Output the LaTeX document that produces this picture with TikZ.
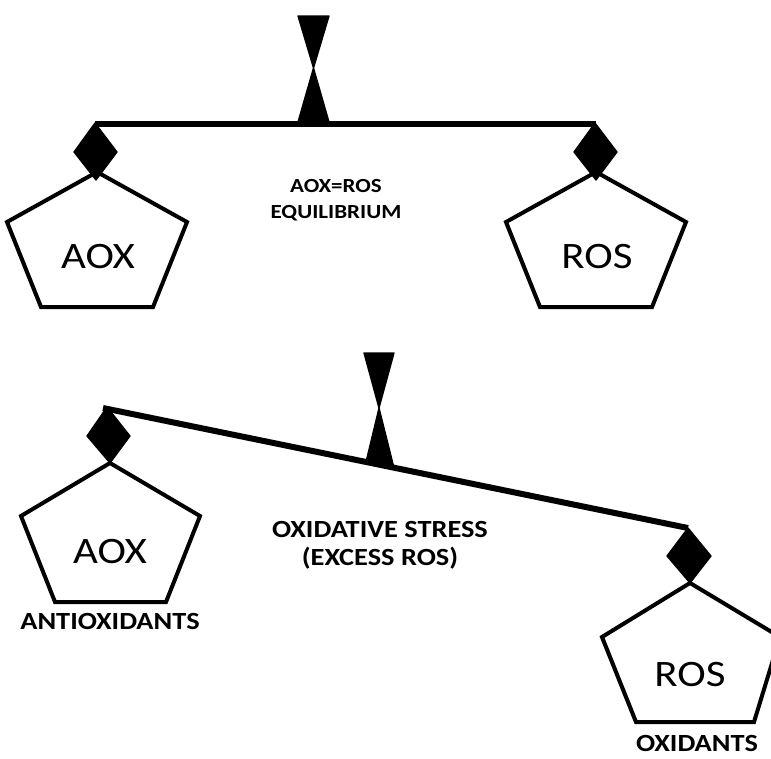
\documentclass[tikz,border=0pt]{standalone}
\usepackage{fontspec}
\setmainfont{Carlito}
\newfontfamily\widefont[FakeStretch=1.15]{Carlito}
\begin{document}
\begin{tikzpicture}[x=0.75pt,y=0.75pt,yscale=-1,xscale=1,
  pent/.style={line width=3pt,line join=miter},
  beam/.style={line width=4.5pt},
  blk/.style={fill=black,draw=black,line width=1pt,line join=round},
  big/.style={font=\widefont\fontsize{28}{32}\selectfont},
  small/.style={font=\widefont\bfseries\fontsize{15}{19.5}\selectfont,align=center},
  medium/.style={font=\widefont\bfseries\fontsize{18.5}{21}\selectfont,align=center}]
\useasboundingbox (0,0) rectangle (771,758);

%top balance: AOX=ROS
\draw [blk] (298,16) -- (329,16) -- (313.5,68) -- cycle ;
\draw [blk] (313.5,68) -- (329,122) -- (298,122) -- cycle ;
\draw [beam]  (95,124) -- (596,124) ;
\draw [blk] (95,123) -- (117,152) -- (96,180) -- (74,152) -- cycle ;
\draw [blk] (595,123) -- (617,152) -- (596,180) -- (574,152) -- cycle ;
\draw [pent] (97,172) -- (187,222) -- (153,307) -- (41,307) -- (7,222) -- cycle ;
\draw [pent] (596,172) -- (686,222) -- (652,307) -- (540,307) -- (506,222) -- cycle ;

\node [big] (aoxtop) at (98,257) {AOX};
\node [big] (rostop) at (597,257) {ROS};
\node [small] (equil) at (336,200) {AOX=ROS\\EQUILIBRIUM};

%bottom balance: excess ROS
\draw [blk] (364,353) -- (394,353) -- (379,408) -- cycle ;
\draw [blk] (379,408) -- (394,468) -- (366,462) -- cycle ;
\draw [beam]  (103,408) -- (688,528) ;
\draw [blk] (107,407) -- (130,436) -- (110,463) -- (87,436) -- cycle ;
\draw [blk] (688,528) -- (711,556) -- (690,583) -- (667,556) -- cycle ;
\draw [pent] (110,463) -- (200,516) -- (166,602) -- (55,602) -- (21,516) -- cycle ;
\draw [pent] (690,583) -- (780,637) -- (754,722) -- (636,722) -- (602,637) -- cycle ;

\node [big] (aoxbot) at (110,552) {AOX};
\node [big] (rosbot) at (690,675) {ROS};
\node [medium] (stress) at (380,545) {OXIDATIVE STRESS\\(EXCESS ROS)};
\node [medium] (antiox) at (110,621) {ANTIOXIDANTS};
\node [medium] (oxid) at (697,743) {OXIDANTS};

\end{tikzpicture}
\end{document}
